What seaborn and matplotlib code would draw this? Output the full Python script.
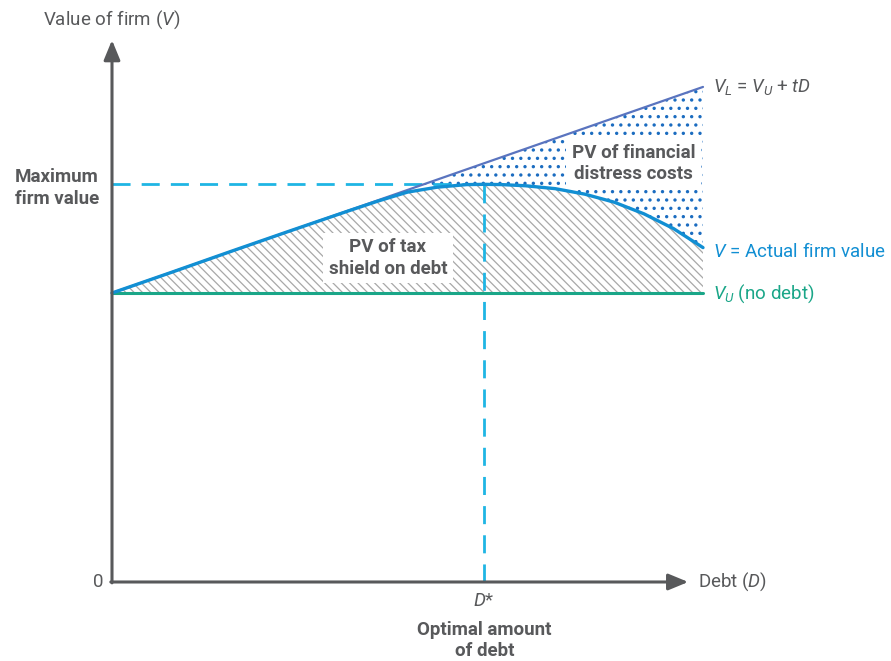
import numpy as np
import pandas as pd
import matplotlib
matplotlib.use("Agg")
import matplotlib.pyplot as plt
import seaborn as sns

# Debt levels and firm values (V_U normalised to 100)
debt = [0, 1, 2, 3, 4, 4.5, 5, 5.5, 6, 6.3, 6.6, 7, 7.5, 8, 8.5, 9, 9.5, 10]
actual_value = [100, 107.1, 114.3, 121.4, 128.4, 131.8, 134.9, 136.6, 137.5,
                137.6, 137.5, 137.1, 136.1, 134.2, 131.4, 127.4, 122.3, 115.7]
unlevered_value = 100.0
tax_rate_slope = 7.13

debt_arr = np.array(debt)
levered_value = unlevered_value + tax_rate_slope * debt_arr
df = pd.DataFrame({
    "Debt": debt,
    "Actual": actual_value,
    "Levered": levered_value,
    "Unlevered": [unlevered_value] * len(debt),
})

i_opt = int(np.argmax(actual_value))
d_star = debt[i_opt]
v_max = actual_value[i_opt]

sns.set_theme(style="white")
plt.rcParams["font.family"] = ["Roboto", "DejaVu Sans"]
plt.rcParams["mathtext.fontset"] = "custom"
plt.rcParams["mathtext.rm"] = "Roboto"
plt.rcParams["mathtext.it"] = "Roboto:italic"
plt.rcParams["mathtext.bf"] = "Roboto:bold"
plt.rcParams["hatch.linewidth"] = 0.9

GREY = "#58595b"
LEVERED = "#5a74bf"
ACTUAL = "#128fd3"
DASH = "#1fb5e4"
UNLEV = "#1aa688"
HATCH = "#a8a8a8"
DOTS = "#1b6cc0"

fig = plt.figure(figsize=(8.91, 6.61), dpi=100)
ax = fig.add_axes([0, 0, 1, 1])
ax.set_xlim(-1.895, 13.181)
ax.set_ylim(-27.34, 201.38)
ax.axis("off")

# Shaded regions: tax shield (hatched) and distress costs (dotted)
ax.fill_between(df["Debt"], df["Unlevered"], df["Actual"], facecolor="none",
                edgecolor=HATCH, hatch="\\\\\\\\", linewidth=0, zorder=1)
dots = ax.fill_between(df["Debt"], df["Actual"], df["Levered"], facecolor="none",
                       edgecolor=DOTS, hatch="..", linewidth=0, zorder=1)
if hasattr(dots, "set_hatch_linewidth"):
    dots.set_hatch_linewidth(1.2)

# Optimum guides
ax.plot([0, d_star], [v_max, v_max], color=DASH, lw=2, dashes=(6.5, 4), zorder=2)
ax.plot([d_star, d_star], [0, v_max], color=DASH, lw=2, dashes=(6.5, 4), zorder=2)

# Value lines
sns.lineplot(data=df, x="Debt", y="Unlevered", color=UNLEV, lw=2.2, ax=ax, zorder=3)
sns.lineplot(data=df, x="Debt", y="Levered", color=LEVERED, lw=1.6, ax=ax, zorder=3)
sns.lineplot(data=df, x="Debt", y="Actual", color=ACTUAL, lw=2.4, ax=ax, zorder=4)
ax.axis("off")

# Axes with arrows
arrow = dict(arrowstyle="-|>,head_length=0.8,head_width=0.33", color=GREY,
             lw=2.2, mutation_scale=15, shrinkA=0, shrinkB=0)
ax.annotate("", xy=(0, 187.5), xytext=(0, -0.3), arrowprops=arrow, zorder=5)
ax.annotate("", xy=(9.75, 0), xytext=(-0.02, 0), arrowprops=arrow, zorder=5)

fs = 13.5
ax.text(0, 194.5, "Value of firm ($V$)", color=GREY, fontsize=fs, ha="center", va="center")
ax.text(-0.24, 0, "0", color=GREY, fontsize=fs, ha="center", va="center")
ax.text(9.92, 0, "Debt ($D$)", color=GREY, fontsize=fs, ha="left", va="center")
ax.text(d_star, -6.6, "$D$*", color=GREY, fontsize=fs, ha="center", va="center")
ax.text(d_star, -20.3, "Optimal amount\nof debt", color=GREY, fontsize=fs,
        fontweight="bold", ha="center", va="center", linespacing=1.2)
ax.text(-0.22, v_max - 1.2, "Maximum\nfirm value", color=GREY, fontsize=fs,
        fontweight="bold", ha="right", va="center", multialignment="right",
        linespacing=1.25)

box = dict(facecolor="white", edgecolor="none", pad=4)
ax.text(4.67, 112.1, "PV of tax\nshield on debt", color=GREY, fontsize=fs,
        fontweight="bold", ha="center", va="center", linespacing=1.25,
        bbox=box, zorder=6)
ax.text(8.82, 144.8, "PV of financial\ndistress costs", color=GREY, fontsize=fs,
        fontweight="bold", ha="center", va="center", linespacing=1.25,
        bbox=box, zorder=6)

x_lab = debt[-1] + 0.17
ax.text(x_lab, levered_value[-1], "$V_L$ = $V_U$ + $tD$", color=GREY,
        fontsize=fs, ha="left", va="center")
ax.text(x_lab, actual_value[-1] - 1.5, "$V$ = Actual firm value", color=ACTUAL,
        fontsize=fs, ha="left", va="center")
ax.text(x_lab, unlevered_value - 0.3, "$V_U$ (no debt)", color=UNLEV,
        fontsize=fs, ha="left", va="center")

fig.savefig("out.png", dpi=100)
